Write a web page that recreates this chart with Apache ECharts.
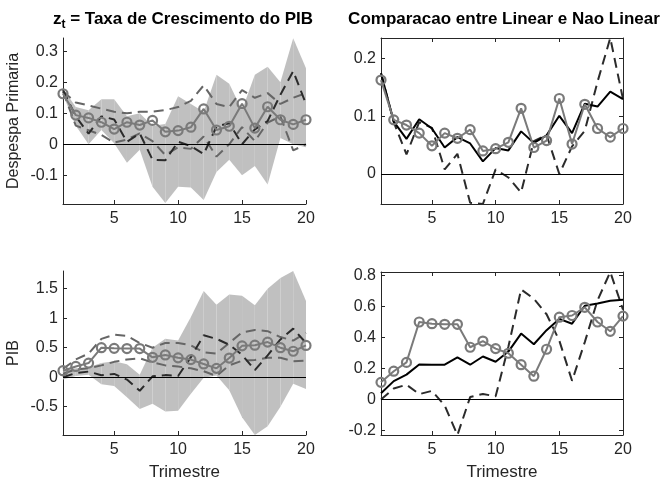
<!DOCTYPE html>
<html><head><meta charset="utf-8">
<script src="https://cdn.jsdelivr.net/npm/echarts@6/dist/echarts.min.js"></script>
<style>html,body{margin:0;padding:0;background:#fff}#c{width:667px;height:482px}</style>
</head><body><div id="c"></div>
<script>
// ---------- data ----------
const quarters = [1,2,3,4,5,6,7,8,9,10,11,12,13,14,15,16,17,18,19,20];
const xTicks = [5,10,15,20];
const ticksTL = [-0.1,0,0.1,0.2,0.3];
const ticksTR = [0,0.1,0.2];
const ticksBL = [-0.5,0,0.5,1,1.5];
const ticksBR = [-0.2,0,0.2,0.4,0.6,0.8];

// Despesa Primaria response
const despNonlinear = [0.163,0.094,0.085,0.071,0.049,0.071,0.062,0.077,0.040,0.044,0.055,0.114,0.046,0.058,0.131,0.052,0.121,0.079,0.064,0.079];
const despLinear    = [0.175,0.091,0.061,0.095,0.079,0.046,0.064,0.053,0.022,0.045,0.041,0.074,0.054,0.067,0.101,0.071,0.122,0.117,0.143,0.130];
const despDashed    = [0.175,0.090,0.034,0.090,0.080,0.008,0.035,-0.050,-0.052,0.008,-0.006,-0.032,0.057,0.068,0.000,0.048,0.075,0.160,0.236,0.130];
const despBandUp    = [0.180,0.120,0.110,0.145,0.145,0.090,0.100,0.060,0.065,0.155,0.130,0.105,0.224,0.195,0.110,0.224,0.250,0.200,0.342,0.245];
const despBandLo    = [0.160,0.060,0.000,0.046,0.003,-0.060,-0.018,-0.137,-0.190,-0.137,-0.140,-0.180,-0.090,-0.050,-0.100,-0.070,-0.130,0.020,0.000,-0.010];
const despGrayUp    = [0.170,0.135,0.125,0.115,0.105,0.100,0.105,0.105,0.110,0.120,0.140,0.190,0.130,0.120,0.175,0.150,0.165,0.130,0.150,0.165];
const despGrayLo    = [0.170,0.060,0.045,0.030,0.005,0.015,0.035,0.010,-0.035,-0.010,-0.015,0.025,-0.040,0.000,0.055,0.010,0.070,0.090,-0.020,0.000];

// PIB response
const pibNonlinear = [0.110,0.182,0.239,0.500,0.489,0.485,0.485,0.337,0.377,0.328,0.298,0.224,0.150,0.324,0.531,0.542,0.595,0.500,0.440,0.538];
const pibLinear    = [0.040,0.118,0.160,0.225,0.224,0.224,0.271,0.224,0.277,0.243,0.309,0.425,0.356,0.447,0.520,0.489,0.605,0.620,0.637,0.643];
const pibDashed    = [0.000,0.070,0.095,0.034,0.055,-0.040,-0.230,0.015,0.035,0.020,0.340,0.710,0.650,0.550,0.380,0.120,0.370,0.640,0.823,0.580];
const pibBandUp    = [0.130,0.150,0.170,0.240,0.270,0.220,0.040,0.500,0.650,0.620,1.020,1.460,1.230,1.400,1.380,1.220,1.500,1.680,1.800,1.290];
const pibBandLo    = [-0.040,0.020,0.040,-0.120,-0.150,-0.340,-0.540,-0.450,-0.580,-0.570,-0.280,-0.010,0.030,-0.220,-0.680,-0.980,-0.830,-0.500,-0.110,-0.200];
const pibGrayUp    = [0.140,0.300,0.400,0.650,0.720,0.700,0.580,0.500,0.580,0.580,0.540,0.420,0.400,0.580,0.760,0.800,0.780,0.680,0.620,0.750];
const pibGrayLo    = [0.060,0.130,0.150,0.200,0.260,0.300,0.320,0.250,0.200,0.180,0.150,0.100,0.020,0.200,0.280,0.290,0.330,0.330,0.270,0.280];

// ---------- styling ----------
const FONT = 'Liberation Sans';
const AX = '#262626';
const C_BAND = '#c0c0c0', C_CIRC = '#7a7a7a', C_GRAY = '#666666', C_DASH = '#2b2b2b';
const pts = arr => quarters.map((q,i)=>[q,arr[i]]);
const fmt = v => Math.abs(v) < 1e-9 ? '0' : String(+v.toFixed(2));

const grids = [
  {left:63, top:38, width:243, height:166},
  {left:381, top:38, width:242, height:166},
  {left:63, top:271, width:243, height:167},
  {left:381, top:272, width:242, height:166}
];
const yLim = [[-0.193,0.343],[-0.052,0.236],[-0.98,1.80],[-0.23,0.823]];
const yTicks = [ticksTL, ticksTR, ticksBL, ticksBR];

function xAx(g, pos, labels, name){
  return {type:'value', gridIndex:g, min:1, max:20, position:pos,
    name: name||'', nameLocation:'middle', nameGap:29,
    nameTextStyle:{fontFamily:FONT, fontSize:17, color:AX},
    axisLine:{show:true, onZero:false, lineStyle:{color:AX, width:1}},
    axisTick:{show:true, inside:true, length:4, customValues:xTicks, lineStyle:{color:AX}},
    axisLabel:{show:labels, customValues:xTicks, color:AX, fontFamily:FONT, fontSize:16, margin:7},
    splitLine:{show:false}};
}
function yAx(g, pos, labels, name){
  return {type:'value', gridIndex:g, min:yLim[g][0], max:yLim[g][1], position:pos,
    name: name||'', nameLocation:'middle', nameGap:41,
    nameTextStyle:{fontFamily:FONT, fontSize:16, color:AX},
    axisLine:{show:true, onZero:false, lineStyle:{color:AX, width:1}},
    axisTick:{show:true, inside:true, length:4, customValues:yTicks[g], lineStyle:{color:AX}},
    axisLabel:{show:labels, customValues:yTicks[g], formatter:fmt, color:AX, fontFamily:FONT, fontSize:16, margin:5},
    splitLine:{show:false}};
}

const xAxes = [xAx(0,'bottom',true), xAx(1,'bottom',true), xAx(2,'bottom',true,'Trimestre'), xAx(3,'bottom',true,'Trimestre'),
               xAx(1,'top',false), xAx(3,'top',false)];
const yAxes = [yAx(0,'left',true,'Despespa Primaria'), yAx(1,'left',true), yAx(2,'left',true,'PIB'), yAx(3,'left',true),
               yAx(1,'right',false), yAx(3,'right',false)];

const zeroLine = {silent:true, symbol:'none', label:{show:false}, animation:false,
  lineStyle:{color:'#000', width:1, type:'solid'}, data:[{yAxis:0}]};

// shaded band: one quadrilateral per segment (gives the faint seams of the original)
function band(g, lo, up){
  return {
    type:'custom', xAxisIndex:g, yAxisIndex:g, silent:true, z:1, clip:true,
    data: quarters.map((q,i)=>[q, lo[i], up[i]]),
    encode:{x:0, y:[1,2]},
    renderItem:function(params, api){
      const i = params.dataIndex;
      if (i >= quarters.length-1) return null;
      const a = api.coord([quarters[i], up[i]]), b = api.coord([quarters[i+1], up[i+1]]);
      const c = api.coord([quarters[i+1], lo[i+1]]), d = api.coord([quarters[i], lo[i]]);
      return {type:'polygon', shape:{points:[a,b,c,d]}, style:{fill:C_BAND, stroke:null}};
    }
  };
}
function dashed(g, arr, color, z, mark){
  const s = {type:'line', xAxisIndex:g, yAxisIndex:g, data:pts(arr), symbol:'none', silent:true, z:z,
    lineStyle:{color:color, width:2, type:[10,6]}};
  if (mark) s.markLine = zeroLine;
  return s;
}
function solid(g, arr, z){
  return {type:'line', xAxisIndex:g, yAxisIndex:g, data:pts(arr), symbol:'none', silent:true, z:z,
    lineStyle:{color:'#000', width:2}};
}
function circles(g, arr, z){
  return {type:'line', xAxisIndex:g, yAxisIndex:g, data:pts(arr), symbol:'circle', symbolSize:9, showSymbol:true,
    silent:true, z:z, itemStyle:{color:'rgba(0,0,0,0)', borderColor:C_CIRC, borderWidth:2.2},
    lineStyle:{color:C_CIRC, width:2}};
}

const series = [
  band(0, despBandLo, despBandUp),
  dashed(0, despGrayUp, C_GRAY, 2), dashed(0, despGrayLo, C_GRAY, 2),
  dashed(0, despDashed, C_DASH, 3, true),
  circles(0, despNonlinear, 4),

  dashed(1, despDashed, C_DASH, 2, true),
  solid(1, despLinear, 3),
  circles(1, despNonlinear, 4),

  band(2, pibBandLo, pibBandUp),
  dashed(2, pibGrayUp, C_GRAY, 2), dashed(2, pibGrayLo, C_GRAY, 2),
  dashed(2, pibDashed, C_DASH, 3, true),
  circles(2, pibNonlinear, 4),

  dashed(3, pibDashed, C_DASH, 2, true),
  solid(3, pibLinear, 3),
  circles(3, pibNonlinear, 4)
];

const titleRich = {
  b:{fontFamily:FONT, fontSize:17, fontWeight:'bold', color:'#000', lineHeight:20, verticalAlign:'top'},
  s:{fontFamily:FONT, fontSize:12, fontWeight:'bold', color:'#000', lineHeight:13, verticalAlign:'bottom'}
};

const chart = echarts.init(document.getElementById('c'), null, {renderer:'canvas'});
chart.setOption({
  animation:false,
  backgroundColor:'#fff',
  grid:grids,
  xAxis:xAxes,
  yAxis:yAxes,
  series:series,
  graphic:[
    {type:'text', x:183, y:11, style:{text:'{b|z}{s|t}{b| = Taxa de Crescimento do PIB}', rich:titleRich, align:'center', verticalAlign:'top'}},
    {type:'text', x:504, y:11, style:{text:'{b|Comparacao entre Linear e Nao Linear}', rich:titleRich, align:'center', verticalAlign:'top'}}
  ]
});
</script></body></html>
